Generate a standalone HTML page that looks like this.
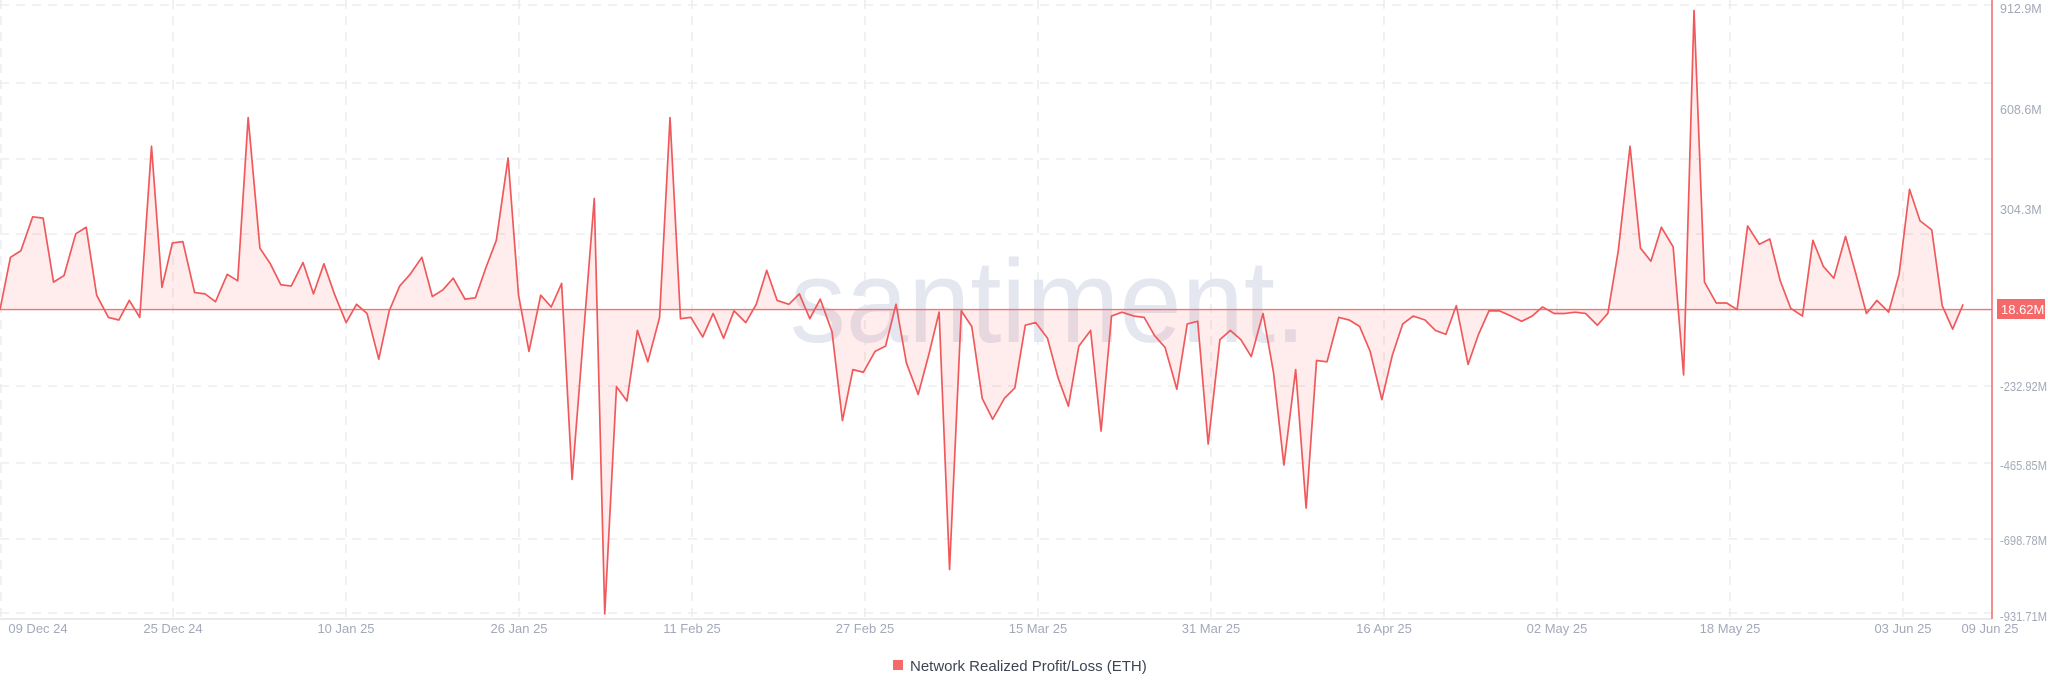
<!DOCTYPE html>
<html><head><meta charset="utf-8"><style>
html,body{margin:0;padding:0;background:#fff;}
svg{display:block;font-family:"Liberation Sans",sans-serif;}
</style></head><body>
<svg width="2048" height="693" viewBox="0 0 2048 693" xmlns="http://www.w3.org/2000/svg">
<rect width="2048" height="693" fill="#fff"/>
<g stroke="#e8e9ec" stroke-width="1.3" stroke-dasharray="9,7" fill="none">
<line x1="0" y1="5" x2="1992" y2="5"/>
<line x1="0" y1="83" x2="1992" y2="83"/>
<line x1="0" y1="159" x2="1992" y2="159"/>
<line x1="0" y1="234" x2="1992" y2="234"/>
<line x1="0" y1="386" x2="1992" y2="386"/>
<line x1="0" y1="463" x2="1992" y2="463"/>
<line x1="0" y1="539" x2="1992" y2="539"/>
<line x1="0" y1="613" x2="1992" y2="613"/>
<line x1="1" y1="0" x2="1" y2="619"/>
<line x1="173" y1="0" x2="173" y2="619"/>
<line x1="346" y1="0" x2="346" y2="619"/>
<line x1="519" y1="0" x2="519" y2="619"/>
<line x1="692" y1="0" x2="692" y2="619"/>
<line x1="865" y1="0" x2="865" y2="619"/>
<line x1="1038" y1="0" x2="1038" y2="619"/>
<line x1="1211" y1="0" x2="1211" y2="619"/>
<line x1="1384" y1="0" x2="1384" y2="619"/>
<line x1="1557" y1="0" x2="1557" y2="619"/>
<line x1="1730" y1="0" x2="1730" y2="619"/>
<line x1="1903" y1="0" x2="1903" y2="619"/>
</g>
<text x="790" y="342" font-size="118" fill="#e4e7ef" textLength="516" lengthAdjust="spacingAndGlyphs">santiment.</text>
<line x1="0" y1="619" x2="1992" y2="619" stroke="#e3e4e8" stroke-width="1.5"/>
<g transform="scale(1.30612)">
<polygon fill="#fd6a6a" fill-opacity="0.13" points="0,237 0,237 8,197 16,192 25,166 33,167 41,216 49,211 58,179 66,174 74,226 83,243 91,245 99,230 107,243 116,112 124,220 132,186 140,185 149,224 157,225 165,231 174,210 182,215 190,90 199,190 207,202 215,218 223,219 232,201 240,225 248,202 256,225 265,247 273,233 281,240 290,275 298,238 306,219 314,210 323,197 331,227 339,222 347,213 356,229 364,228 372,205 380,184 389,121 397,226 405,269 414,226 422,235 430,217 438,367 455,152 463,470 472,296 480,307 488,253 496,277 505,243 513,90 521,244 529,243 538,258 546,240 554,259 562,238 571,247 579,233 587,207 595,230 604,233 612,225 620,244 628,229 637,254 645,322 653,283 661,285 670,269 678,265 686,233 694,278 703,302 711,272 719,239 727,436 736,238 744,250 752,305 760,321 769,305 777,297 785,249 793,247 802,259 810,289 818,311 826,265 835,253 843,330 851,242 859,239 868,242 876,243 884,257 892,266 901,298 909,248 917,246 925,340 934,260 942,253 950,260 958,273 967,240 975,285 983,356 992,283 1000,389 1008,276 1016,277 1025,243 1033,245 1041,250 1049,269 1058,306 1066,272 1074,248 1082,242 1091,245 1099,253 1107,256 1115,234 1124,279 1132,256 1140,238 1148,238 1157,242 1165,246 1173,242 1181,235 1190,240 1198,240 1206,239 1214,240 1223,249 1231,240 1239,192 1248,112 1256,190 1264,200 1272,174 1281,189 1289,287 1297,8 1305,216 1314,232 1322,232 1330,237 1338,173 1347,187 1355,183 1363,215 1371,236 1380,242 1388,184 1396,204 1404,213 1413,181 1421,210 1429,240 1437,230 1446,239 1454,210 1462,145 1470,169 1479,176 1487,234 1495,252 1503,233 1503,237"/>
<line x1="0" y1="237" x2="1525" y2="237" stroke="#f47272" stroke-width="1"/>
<polyline fill="none" stroke="#f0595b" stroke-width="1.3" stroke-linejoin="round" points="0,237 8,197 16,192 25,166 33,167 41,216 49,211 58,179 66,174 74,226 83,243 91,245 99,230 107,243 116,112 124,220 132,186 140,185 149,224 157,225 165,231 174,210 182,215 190,90 199,190 207,202 215,218 223,219 232,201 240,225 248,202 256,225 265,247 273,233 281,240 290,275 298,238 306,219 314,210 323,197 331,227 339,222 347,213 356,229 364,228 372,205 380,184 389,121 397,226 405,269 414,226 422,235 430,217 438,367 455,152 463,470 472,296 480,307 488,253 496,277 505,243 513,90 521,244 529,243 538,258 546,240 554,259 562,238 571,247 579,233 587,207 595,230 604,233 612,225 620,244 628,229 637,254 645,322 653,283 661,285 670,269 678,265 686,233 694,278 703,302 711,272 719,239 727,436 736,238 744,250 752,305 760,321 769,305 777,297 785,249 793,247 802,259 810,289 818,311 826,265 835,253 843,330 851,242 859,239 868,242 876,243 884,257 892,266 901,298 909,248 917,246 925,340 934,260 942,253 950,260 958,273 967,240 975,285 983,356 992,283 1000,389 1008,276 1016,277 1025,243 1033,245 1041,250 1049,269 1058,306 1066,272 1074,248 1082,242 1091,245 1099,253 1107,256 1115,234 1124,279 1132,256 1140,238 1148,238 1157,242 1165,246 1173,242 1181,235 1190,240 1198,240 1206,239 1214,240 1223,249 1231,240 1239,192 1248,112 1256,190 1264,200 1272,174 1281,189 1289,287 1297,8 1305,216 1314,232 1322,232 1330,237 1338,173 1347,187 1355,183 1363,215 1371,236 1380,242 1388,184 1396,204 1404,213 1413,181 1421,210 1429,240 1437,230 1446,239 1454,210 1462,145 1470,169 1479,176 1487,234 1495,252 1503,233"/>
</g>
<line x1="1992" y1="0" x2="1992" y2="619" stroke="#f06a6a" stroke-width="1.5"/>
<g font-size="12.5" fill="#a3a9b8">
<text x="2000" y="13">912.9M</text>
<text x="2000" y="114">608.6M</text>
<text x="2000" y="214">304.3M</text>
<text x="2000" y="391" textLength="47" lengthAdjust="spacingAndGlyphs">-232.92M</text>
<text x="2000" y="470" textLength="47" lengthAdjust="spacingAndGlyphs">-465.85M</text>
<text x="2000" y="545" textLength="47" lengthAdjust="spacingAndGlyphs">-698.78M</text>
<text x="2000" y="621" textLength="47" lengthAdjust="spacingAndGlyphs">-931.71M</text>
</g>
<rect x="1997" y="299" width="48" height="20" fill="#f46a6a"/>
<text x="2001" y="314" font-size="13" fill="#fff">18.62M</text>
<g font-size="13" fill="#a3a9b8" text-anchor="middle">
<text x="38" y="633">09 Dec 24</text>
<text x="173" y="633">25 Dec 24</text>
<text x="346" y="633">10 Jan 25</text>
<text x="519" y="633">26 Jan 25</text>
<text x="692" y="633">11 Feb 25</text>
<text x="865" y="633">27 Feb 25</text>
<text x="1038" y="633">15 Mar 25</text>
<text x="1211" y="633">31 Mar 25</text>
<text x="1384" y="633">16 Apr 25</text>
<text x="1557" y="633">02 May 25</text>
<text x="1730" y="633">18 May 25</text>
<text x="1903" y="633">03 Jun 25</text>
<text x="1990" y="633">09 Jun 25</text>
</g>
<rect x="893" y="660" width="10" height="10" fill="#f46a6a"/>
<text x="910" y="671" font-size="15" fill="#3d4452">Network Realized Profit/Loss (ETH)</text>
</svg>
</body></html>
